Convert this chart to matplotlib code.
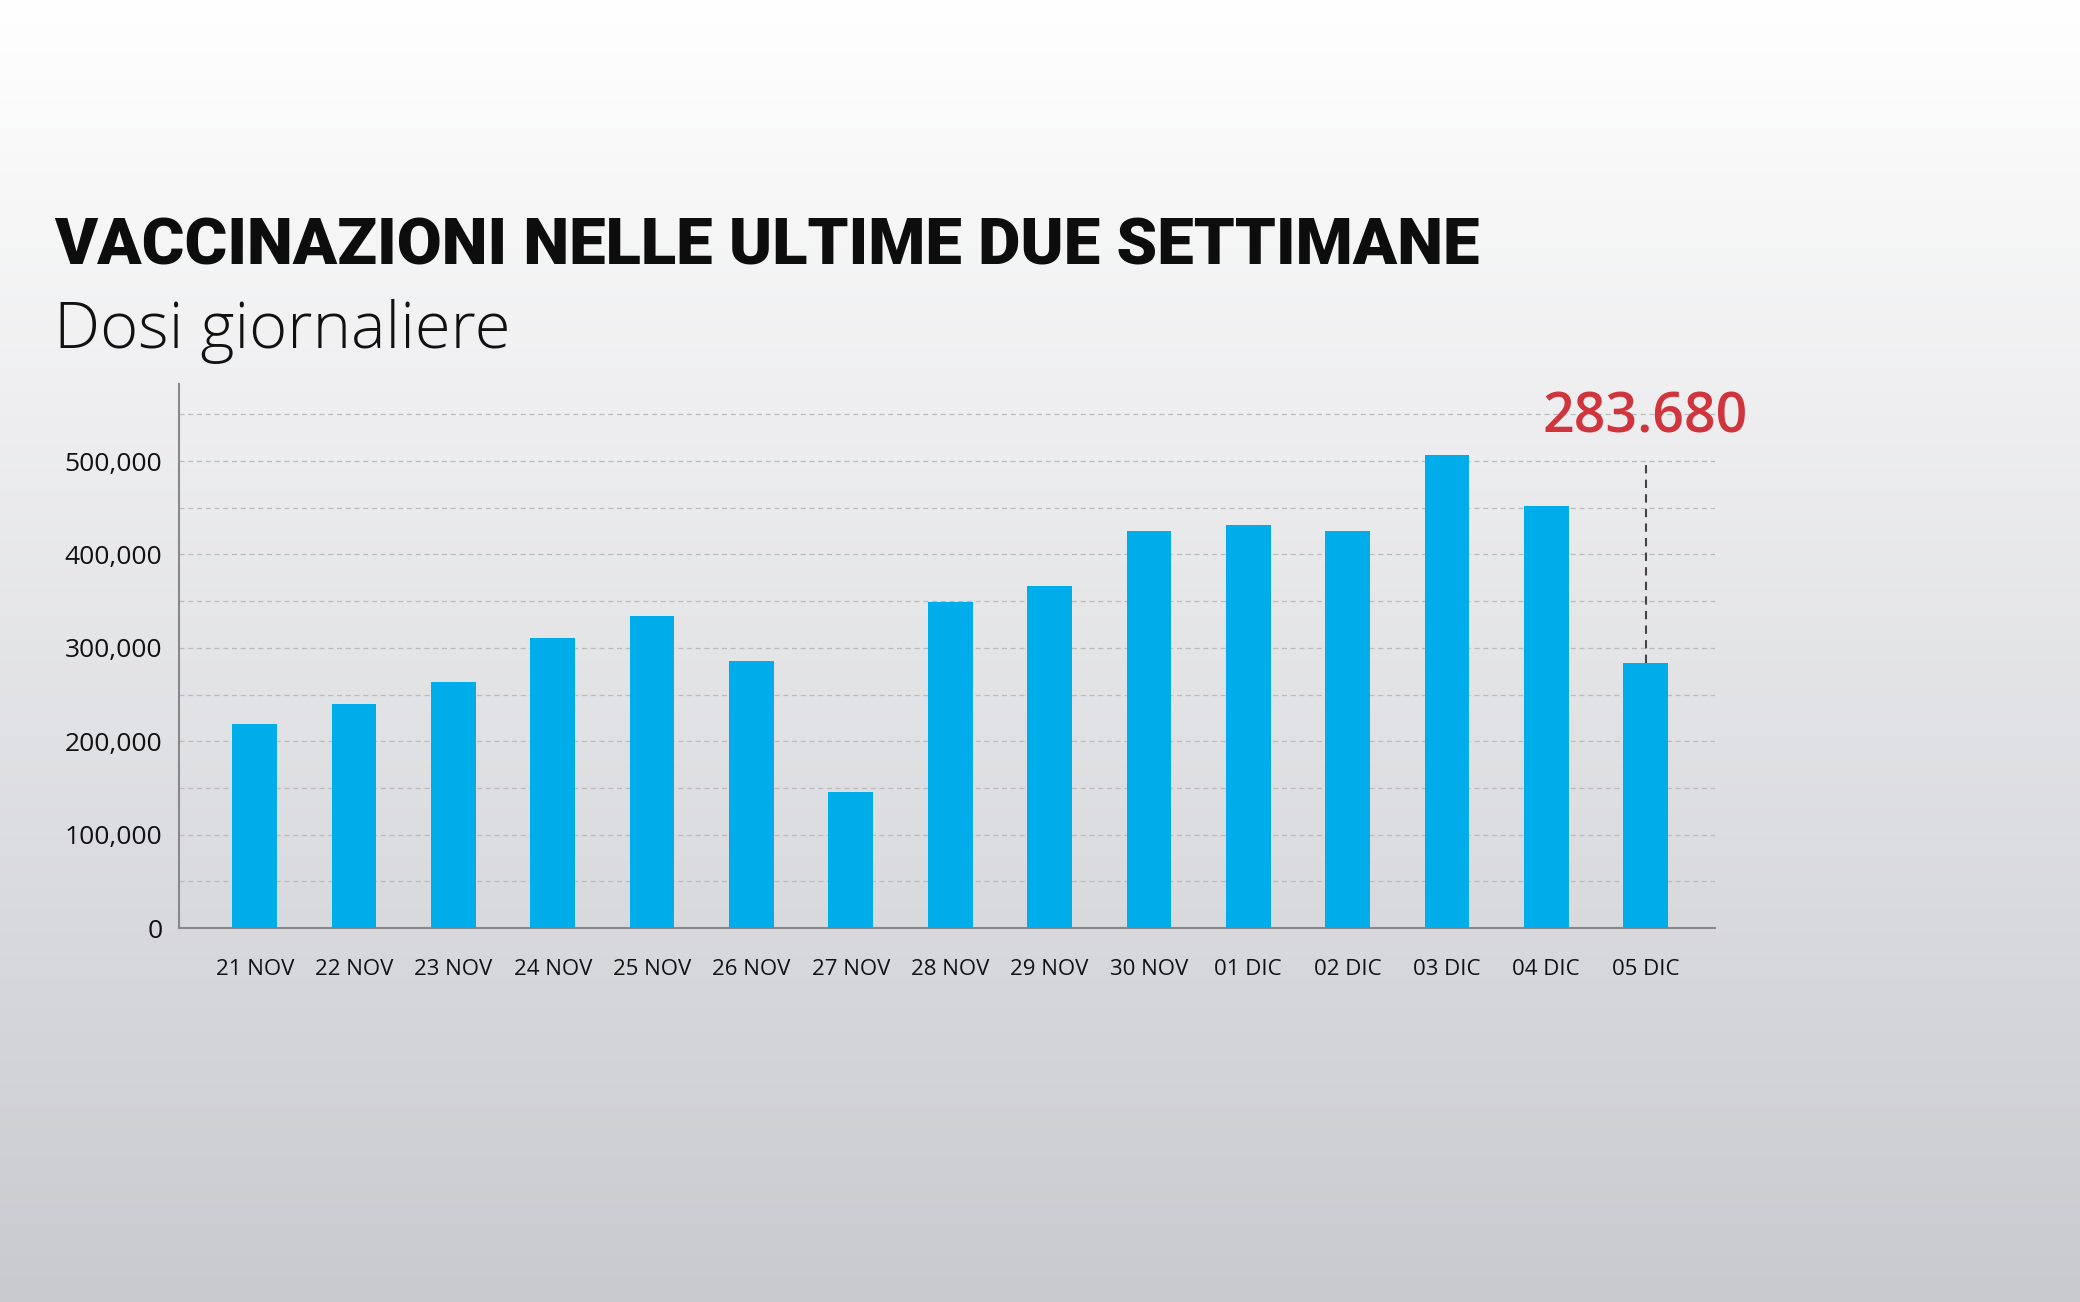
import numpy as np
import matplotlib.pyplot as plt
from matplotlib.colors import LinearSegmentedColormap

days = ["21 NOV", "22 NOV", "23 NOV", "24 NOV", "25 NOV", "26 NOV", "27 NOV", "28 NOV",
        "29 NOV", "30 NOV", "01 DIC", "02 DIC", "03 DIC", "04 DIC", "05 DIC"]
doses = [219000, 240000, 263000, 311000, 334000, 286000, 146000, 349000,
         366000, 425000, 432000, 425000, 506000, 452000, 283680]
yticks = [0, 100000, 200000, 300000, 400000, 500000]
last_label = "283.680"

fig = plt.figure(figsize=(20.8, 13.02), dpi=100)

# background gradient
bg = fig.add_axes([0, 0, 1, 1], zorder=-10)
grad = np.linspace(0, 1, 256).reshape(-1, 1)
bg.imshow(grad, aspect="auto", cmap=LinearSegmentedColormap.from_list("g", ["#ffffff", "#c9cacf"]),
          extent=[0, 1, 0, 1])
bg.axis("off")

title = fig.text(0.026, 0.797, "VACCINAZIONI NELLE ULTIME DUE SETTIMANE", fontsize=70,
                 fontweight="black", family=["Roboto", "DejaVu Sans"],
                 color="#0d0d0d", va="baseline")
# fit title width to the reference (~1426 px)
fig.canvas.draw()
w = title.get_window_extent().width
title.set_fontsize(70 * 1426 / w)

fig.text(0.026, 0.733, "Dosi giornaliere", fontsize=47, family="Open Sans",
         fontweight="light", color="#111111", va="baseline")

ax = fig.add_axes([0.0861, 0.2872, 0.7385, 0.4175])
ax.patch.set_alpha(0)
x = np.arange(len(days))
ax.bar(x, doses, width=0.45, color="#00adeb", zorder=3)
ax.set_xlim(-0.761, 14.70)
ax.set_ylim(0, 582000)
ax.set_yticks(yticks)
ax.set_yticklabels([f"{v:,}" for v in yticks], fontsize=19, family="Open Sans", color="#111111")
ax.set_yticks(np.arange(50000, 560001, 50000), minor=True)
ax.set_xticks(x)
ax.set_xticklabels(days, fontsize=16, family="Open Sans", color="#111111")
ax.tick_params(length=0, which="both")
ax.tick_params(axis="x", pad=22)
ax.tick_params(axis="y", pad=12)
ax.grid(axis="y", which="both", color="#bbbbbb", linestyle=(0, (4, 3)), linewidth=0.9, zorder=0)
for s in ["top", "right"]:
    ax.spines[s].set_visible(False)
for s in ["left", "bottom"]:
    ax.spines[s].set_color("#888888")
    ax.spines[s].set_linewidth(1.5)

ax.plot([x[-1], x[-1]], [doses[-1], 500000], color="#444444", linestyle=(0, (4, 3)),
        linewidth=1.5, zorder=4)
ax.text(x[-1], 516000, last_label, color="#d0343c", fontsize=40, family="Open Sans",
        fontweight="semibold", ha="center", va="bottom")

fig.savefig("out.png", dpi=100)
